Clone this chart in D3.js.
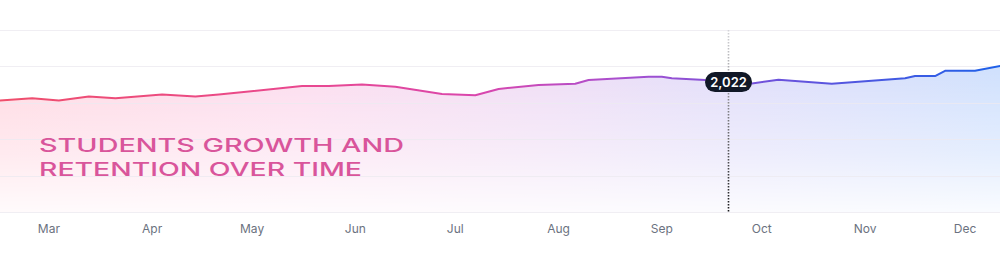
<!DOCTYPE html>
<html>
<head>
<meta charset="utf-8">
<script src="https://cdn.jsdelivr.net/npm/d3@7"></script>
<style>
  html, body { margin: 0; padding: 0; background: #fff; }
  svg { display: block; }
</style>
</head>
<body>
<script>
// students per week
const dates = [
  "2023-02-14", "2023-02-24", "2023-03-04", "2023-03-13", "2023-03-21",
  "2023-04-04", "2023-04-14", "2023-04-21", "2023-04-30", "2023-05-16",
  "2023-05-24", "2023-06-03", "2023-06-13", "2023-06-27", "2023-07-07",
  "2023-07-14", "2023-07-26", "2023-08-06", "2023-08-10", "2023-08-28",
  "2023-09-01", "2023-09-04", "2023-09-14", "2023-09-21", "2023-09-27",
  "2023-10-06", "2023-10-22", "2023-11-07", "2023-11-13", "2023-11-16",
  "2023-11-22", "2023-11-25", "2023-12-04", "2023-12-12"
];
const students = [
  1912, 1925, 1912, 1934, 1925,
  1945, 1934, 1945, 1962, 1992,
  1992, 2000, 1988, 1948, 1941,
  1976, 1998, 2005, 2025, 2043,
  2043, 2035, 2025, 2022, 2003,
  2027, 2005, 2027, 2035, 2047,
  2047, 2076, 2076, 2104
];
const gridValues = [1300, 1500, 1700, 1900, 2100, 2300];
const monthTicks = ["2023-03-01", "2023-04-01", "2023-05-01", "2023-06-01", "2023-07-01",
  "2023-08-01", "2023-09-01", "2023-10-01", "2023-11-01", "2023-12-01"];
const monthLabels = ["Mar", "Apr", "May", "Jun", "Jul", "Aug", "Sep", "Oct", "Nov", "Dec"];
const highlightDate = "2023-09-21";
const titleLines = ["STUDENTS GROWTH AND", "RETENTION OVER TIME"];

const width = 1000, height = 275;
const plotTop = 30, plotBottom = 212;

const parse = d3.timeParse("%Y-%m-%d");
const data = dates.map((d, i) => ({ date: parse(d), value: students[i] }));

const x = d3.scaleTime()
  .domain([new Date(2023, 1, 14, 8), new Date(2023, 11, 11, 12)])
  .range([0, width]);
const y = d3.scaleLinear()
  .domain([1300, 2300])
  .range([plotBottom, plotTop]);

const svg = d3.select("body").append("svg")
  .attr("width", width)
  .attr("height", height);

const defs = svg.append("defs");

// line colour runs red -> pink -> purple -> blue
const lineGrad = defs.append("linearGradient")
  .attr("id", "lineGrad")
  .attr("gradientUnits", "userSpaceOnUse")
  .attr("x1", 0).attr("x2", width).attr("y1", 0).attr("y2", 0);
[[0, "#ef4f6c"], [0.3, "#e9488f"], [0.48, "#d946ad"], [0.62, "#a94fcf"], [0.78, "#6a52dc"], [1, "#1d60e8"]]
  .forEach(s => lineGrad.append("stop").attr("offset", s[0]).attr("stop-color", s[1]));

const areaGrad = defs.append("linearGradient")
  .attr("id", "areaGrad")
  .attr("gradientUnits", "userSpaceOnUse")
  .attr("x1", 0).attr("x2", width).attr("y1", 0).attr("y2", 0);
[[0, "#ffd9e2"], [0.3, "#fcdcee"], [0.55, "#efddf5"], [0.75, "#e0defa"], [1, "#cfe0fd"]]
  .forEach(s => areaGrad.append("stop").attr("offset", s[0]).attr("stop-color", s[1]));

const fade = defs.append("linearGradient")
  .attr("id", "fade")
  .attr("gradientUnits", "userSpaceOnUse")
  .attr("x1", 0).attr("x2", 0).attr("y1", 65).attr("y2", plotBottom);
fade.append("stop").attr("offset", 0).attr("stop-color", "#fff").attr("stop-opacity", 1);
fade.append("stop").attr("offset", 0.6).attr("stop-color", "#fff").attr("stop-opacity", 0.55);
fade.append("stop").attr("offset", 1).attr("stop-color", "#fff").attr("stop-opacity", 0.12);

defs.append("mask").attr("id", "fadeMask")
  .append("rect")
  .attr("x", 0).attr("y", 0).attr("width", width).attr("height", height)
  .attr("fill", "url(#fade)");

const dotGrad = defs.append("linearGradient")
  .attr("id", "dotGrad")
  .attr("gradientUnits", "userSpaceOnUse")
  .attr("x1", 0).attr("x2", 0).attr("y1", plotTop).attr("y2", plotBottom);
dotGrad.append("stop").attr("offset", 0).attr("stop-color", "#d4d4d8");
dotGrad.append("stop").attr("offset", 1).attr("stop-color", "#18181b");

// area
const area = d3.area()
  .x(d => x(d.date))
  .y0(plotBottom)
  .y1(d => y(d.value));

svg.append("path")
  .datum(data)
  .attr("d", area)
  .attr("fill", "url(#areaGrad)")
  .attr("mask", "url(#fadeMask)");

// grid
svg.append("g")
  .selectAll("line")
  .data(gridValues)
  .join("line")
  .attr("x1", 0).attr("x2", width)
  .attr("y1", d => Math.round(y(d)) + 0.5)
  .attr("y2", d => Math.round(y(d)) + 0.5)
  .attr("stroke", "#eceaf0")
  .attr("stroke-opacity", 0.8);

// line
const line = d3.line()
  .x(d => x(d.date))
  .y(d => y(d.value));

svg.append("path")
  .datum(data)
  .attr("d", line)
  .attr("fill", "none")
  .attr("stroke", "url(#lineGrad)")
  .attr("stroke-width", 2)
  .attr("stroke-linejoin", "round");

// month labels
svg.append("g")
  .selectAll("text")
  .data(monthTicks)
  .join("text")
  .attr("x", d => x(parse(d)))
  .attr("y", 233)
  .attr("text-anchor", "middle")
  .attr("font-family", "Inter, 'Noto Sans', sans-serif")
  .attr("font-size", 12)
  .attr("fill", "#6b7280")
  .text((d, i) => monthLabels[i]);

// title
svg.append("g")
  .selectAll("text")
  .data(titleLines)
  .join("text")
  .attr("x", 39)
  .attr("y", (d, i) => 152 + i * 24)
  .attr("font-family", "Inter, 'Liberation Sans', sans-serif")
  .attr("font-weight", 500)
  .attr("font-size", 19)
  .attr("fill", "#d9559b")
  .attr("textLength", (d, i) => i === 0 ? 365 : 323)
  .attr("lengthAdjust", "spacingAndGlyphs")
  .text(d => d);

// hover marker
const hx = Math.round(x(parse(highlightDate))) + 0.5;
const hp = data.find(d => +d.date === +parse(highlightDate));

svg.append("line")
  .attr("x1", hx).attr("x2", hx)
  .attr("y1", plotTop).attr("y2", plotBottom)
  .attr("stroke", "url(#dotGrad)")
  .attr("stroke-width", 1.6)
  .attr("stroke-dasharray", "1.4 1.6");

const pill = svg.append("g")
  .attr("transform", `translate(${hx},${y(hp.value) + 1.5})`);
pill.append("rect")
  .attr("x", -23.5).attr("y", -10)
  .attr("width", 47).attr("height", 20)
  .attr("rx", 10)
  .attr("fill", "#111827");
pill.append("text")
  .attr("y", 4.5)
  .attr("text-anchor", "middle")
  .attr("font-family", "Inter, 'Noto Sans', sans-serif")
  .attr("font-weight", 600)
  .attr("font-size", 13)
  .attr("fill", "#fff")
  .text(d3.format(",")(hp.value));
</script>
</body>
</html>
